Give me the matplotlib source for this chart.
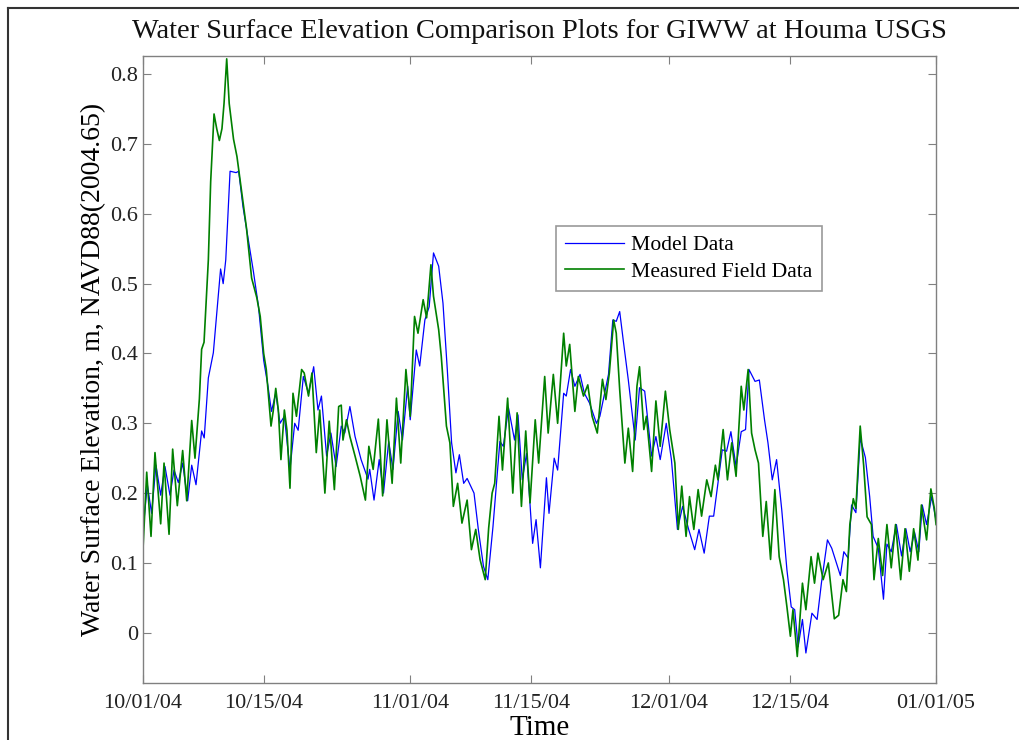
import numpy as np
import pandas as pd
import matplotlib
matplotlib.use("Agg")
import matplotlib.pyplot as plt
import matplotlib.dates as mdates
from matplotlib.lines import Line2D

# days since 10/01/04 and water level (m)
field_days = [0, 0.43, 0.93, 1.39, 2.05, 2.44, 3.02, 3.44, 3.98, 4.6, 5.07, 5.65, 6.03, 6.54, 6.8, 7.08,
              7.58, 7.85, 8.24, 8.55, 8.86, 9.16, 9.4, 9.71, 10.0, 10.5, 10.9, 11.4, 12.0, 12.6, 13.2, 13.6,
              14.0, 14.3, 14.85, 15.1, 15.4, 15.7, 16.0, 16.4, 16.7, 17.05, 17.4, 17.8, 18.4, 18.7, 19.2,
              19.6, 20.1, 20.5, 21.1, 21.6, 22.2, 22.7, 23.0, 23.2, 23.6, 24.0, 24.6, 25.2, 25.8, 26.2,
              26.7, 27.3, 27.8, 28.3, 28.9, 29.4, 29.9, 30.5, 31.0, 31.5, 31.9, 32.5, 32.9, 33.4, 33.7,
              34.3, 34.6, 35.2, 35.6, 36.0, 36.5, 37.0, 37.6, 38.1, 38.6, 39.1, 39.7, 40.1, 40.5, 40.8,
              41.3, 41.7, 42.3, 42.9, 43.4, 43.9, 44.4, 44.9, 45.5, 45.9, 46.6, 47.0, 47.6, 48.1, 48.8,
              49.1, 49.5, 50.1, 50.5, 51.1, 51.6, 52.1, 52.7, 53.3, 53.7, 54.1, 54.6, 54.9, 55.3, 55.9,
              56.3, 56.8, 57.3, 57.6, 58.1, 58.4, 59.0, 59.5, 60.0, 60.6, 61.1, 61.7, 62.1, 62.5, 63.0,
              63.4, 63.9, 64.4, 64.8, 65.4, 65.9, 66.4, 66.7, 67.3, 67.8, 68.3, 68.8, 69.4, 69.7, 70.2,
              70.6, 71.0, 71.4, 71.9, 72.3, 72.8, 73.3, 73.8, 74.3, 74.7, 75.1, 75.4, 75.9, 76.5, 76.9,
              77.5, 77.9, 78.3, 78.9, 79.5, 80.2, 80.7, 81.2, 81.6, 82.0, 82.4, 82.7, 83.2, 83.6, 84.0,
              84.5, 84.8, 85.3, 85.8, 86.3, 86.8, 87.3, 87.9, 88.4, 88.9, 89.4, 89.9, 90.3, 90.9, 91.4,
              91.8, 92.0]
field_wse = [0.12, 0.23, 0.138, 0.258, 0.156, 0.243, 0.141, 0.263, 0.182, 0.261, 0.189, 0.304, 0.25, 0.335, 0.406, 0.416,
             0.534, 0.646, 0.743, 0.722, 0.705, 0.722, 0.758, 0.822, 0.758, 0.707, 0.682, 0.636, 0.58, 0.508, 0.48, 0.453,
             0.40, 0.377, 0.296, 0.317, 0.35, 0.319, 0.248, 0.319, 0.29, 0.207, 0.343, 0.31, 0.377, 0.372, 0.339,
             0.372, 0.258, 0.319, 0.2, 0.303, 0.205, 0.324, 0.326, 0.276, 0.305, 0.281, 0.253, 0.224, 0.19, 0.267,
             0.234, 0.306, 0.196, 0.305, 0.214, 0.336, 0.243, 0.377, 0.31, 0.453, 0.429, 0.477, 0.451, 0.527, 0.482,
             0.434, 0.396, 0.296, 0.272, 0.181, 0.214, 0.157, 0.19, 0.119, 0.148, 0.105, 0.076, 0.15, 0.2, 0.214,
             0.31, 0.233, 0.336, 0.2, 0.315, 0.181, 0.289, 0.186, 0.305, 0.243, 0.367, 0.286, 0.37, 0.3, 0.429,
             0.382, 0.413, 0.317, 0.367, 0.339, 0.355, 0.31, 0.286, 0.363, 0.334, 0.372, 0.448, 0.429, 0.348, 0.243,
             0.293, 0.231, 0.353, 0.381, 0.291, 0.31, 0.231, 0.332, 0.267, 0.346, 0.291, 0.243, 0.148, 0.21, 0.138,
             0.195, 0.148, 0.205, 0.167, 0.219, 0.195, 0.24, 0.219, 0.291, 0.219, 0.272, 0.224, 0.353, 0.319, 0.377,
             0.286, 0.262, 0.243, 0.138, 0.188, 0.105, 0.205, 0.109, 0.076, 0.037, -0.005, 0.033, -0.034, 0.071, 0.033,
             0.109, 0.071, 0.114, 0.076, 0.10, 0.02, 0.025, 0.076, 0.059, 0.155, 0.192, 0.178, 0.296, 0.24, 0.166,
             0.155, 0.076, 0.135, 0.082, 0.155, 0.093, 0.155, 0.076, 0.149, 0.088, 0.149, 0.104, 0.183, 0.133, 0.206,
             0.178, 0.155]

model_days = [0, 0.5, 1.0, 1.5, 2.05, 2.55, 3.13, 3.6, 4.1, 4.6, 5.18, 5.65, 6.15, 6.8, 7.1, 7.58, 8.16,
              8.62, 9.0, 9.3, 9.6, 10.1, 10.8, 11.1, 11.6, 12.2, 12.8, 13.4, 14.0, 14.5, 14.9, 15.4, 15.9,
              16.4, 17.05, 17.6, 18.0, 18.6, 19.2, 19.8, 20.3, 20.7, 21.3, 21.8, 22.4, 23.0, 23.4, 24.0,
              24.6, 25.3, 26.1, 26.3, 26.8, 27.4, 27.9, 28.5, 29.0, 29.6, 30.1, 30.7, 31.0, 31.7, 32.1,
              32.7, 33.2, 33.7, 34.3, 34.8, 35.3, 35.8, 36.3, 36.7, 37.2, 37.6, 38.4, 38.9, 39.5, 40.0,
              40.6, 41.4, 41.8, 42.4, 43.1, 43.5, 44.0, 44.5, 45.2, 45.6, 46.1, 46.8, 47.1, 47.7, 48.1,
              48.8, 49.1, 49.6, 50.1, 50.7, 51.2, 51.8, 52.6, 53.0, 53.5, 54.0, 54.5, 54.9, 55.3, 55.7,
              56.3, 57.1, 57.6, 58.2, 59.0, 59.5, 60.0, 60.7, 61.3, 62.0, 62.6, 63.3, 64.0, 64.5, 65.1,
              65.7, 66.2, 66.6, 67.2, 67.7, 68.2, 68.8, 69.4, 69.9, 70.3, 71.0, 71.5, 72.1, 72.5, 73.0,
              73.5, 74.1, 74.7, 75.2, 75.6, 76.0, 76.5, 76.9, 77.6, 78.2, 78.7, 79.4, 79.9, 80.9, 81.3,
              81.8, 82.2, 82.7, 83.2, 83.8, 84.3, 84.7, 85.3, 85.9, 86.3, 86.8, 87.4, 88.0, 88.5, 89.0,
              89.5, 90.0, 90.4, 90.9, 91.5, 92.0]
model_wse = [0.146, 0.212, 0.171, 0.24, 0.197, 0.238, 0.197, 0.233, 0.215, 0.243, 0.189, 0.24, 0.212, 0.289, 0.279, 0.365, 0.401,
             0.467, 0.521, 0.50, 0.534, 0.661, 0.659, 0.661, 0.61, 0.564, 0.518, 0.467, 0.39, 0.353, 0.317, 0.343, 0.3,
             0.31, 0.234, 0.3, 0.29, 0.367, 0.343, 0.381, 0.319, 0.339, 0.253, 0.286, 0.238, 0.296, 0.286, 0.324,
             0.281, 0.248, 0.22, 0.234, 0.19, 0.248, 0.2, 0.274, 0.234, 0.317, 0.276, 0.353, 0.305, 0.405, 0.382,
             0.448, 0.467, 0.544, 0.525, 0.472, 0.377, 0.272, 0.229, 0.255, 0.214, 0.221, 0.2, 0.148, 0.095, 0.076,
             0.152, 0.274, 0.267, 0.322, 0.276, 0.312, 0.219, 0.257, 0.128, 0.162, 0.093, 0.222, 0.171, 0.25, 0.233,
             0.343, 0.339, 0.377, 0.353, 0.37, 0.343, 0.329, 0.3, 0.31, 0.34, 0.37, 0.448, 0.446, 0.46, 0.42,
             0.362, 0.276, 0.351, 0.346, 0.253, 0.281, 0.248, 0.3, 0.248, 0.148, 0.181, 0.148, 0.119, 0.148, 0.114,
             0.167, 0.167, 0.205, 0.262, 0.26, 0.288, 0.238, 0.288, 0.291, 0.377, 0.36, 0.362, 0.305, 0.272, 0.219,
             0.248, 0.176, 0.09, 0.037, 0.033, -0.02, 0.019, -0.029, 0.028, 0.019, 0.071, 0.133, 0.121, 0.082, 0.116,
             0.107, 0.183, 0.172, 0.279, 0.251, 0.195, 0.138, 0.121, 0.048, 0.127, 0.116, 0.155, 0.11, 0.149, 0.116,
             0.144, 0.116, 0.183, 0.155, 0.195, 0.161]

start = pd.Timestamp("2004-10-01")
tick_dates = ["2004-10-01", "2004-10-15", "2004-11-01", "2004-11-15", "2004-12-01", "2004-12-15", "2005-01-01"]

field_t = start + pd.to_timedelta(field_days, unit="D")
model_t = start + pd.to_timedelta(model_days, unit="D")

plt.rcParams['font.family'] = ['Liberation Serif', 'DejaVu Serif']

fig = plt.figure(figsize=(10.2, 7.4), dpi=100)
ax = fig.add_axes([0.1402, 0.077, 0.7775, 0.8473])

ax.plot(model_t, model_wse, color='#0000ff', lw=0.9, label='Model Data')
ax.plot(field_t, field_wse, color='#008000', lw=1.2, label='Measured Field Data')

ax.set_xlim(pd.Timestamp("2004-10-01"), pd.Timestamp("2005-01-01"))
ax.set_ylim(-0.072, 0.826)
ax.set_yticks(np.arange(0, 0.81, 0.1))
ax.set_yticklabels(['0', '0.1', '0.2', '0.3', '0.4', '0.5', '0.6', '0.7', '0.8'])
ax.set_xticks(pd.to_datetime(tick_dates))
ax.xaxis.set_major_formatter(mdates.DateFormatter('%m/%d/%y'))

for s in ax.spines.values():
    s.set_color('#808080')
    s.set_linewidth(1.0)
ax.tick_params(direction='in', length=6, color='#808080', top=True, right=True,
               labelsize=16, labelcolor='#222222')
ax.tick_params(axis='x', pad=8)

ax.set_title('Water Surface Elevation Comparison Plots for GIWW at Houma USGS',
             fontsize=20.4, color='#111111', pad=13)
ax.set_xlabel('Time', fontsize=21, labelpad=1)
ax.set_ylabel('Water Surface Elevation, m, NAVD88(2004.65)', fontsize=20, labelpad=3)

leg = ax.legend(loc='upper left', bbox_to_anchor=(0.521, 0.729), fontsize=15.6,
                frameon=True, fancybox=False, borderpad=0.42, handlelength=2.7,
                handletextpad=0.35, labelspacing=0.3, borderaxespad=0)
leg.get_frame().set_edgecolor('#808080')
leg.get_frame().set_linewidth(1.2)

# frame lines of the original screenshot
fig.add_artist(Line2D([8 / 1020, 1], [1 - 8 / 740, 1 - 8 / 740], color='#333333', lw=1.5))
fig.add_artist(Line2D([8 / 1020, 8 / 1020], [0, 1 - 8 / 740], color='#333333', lw=1.5))

fig.savefig('out.png', dpi=100)
